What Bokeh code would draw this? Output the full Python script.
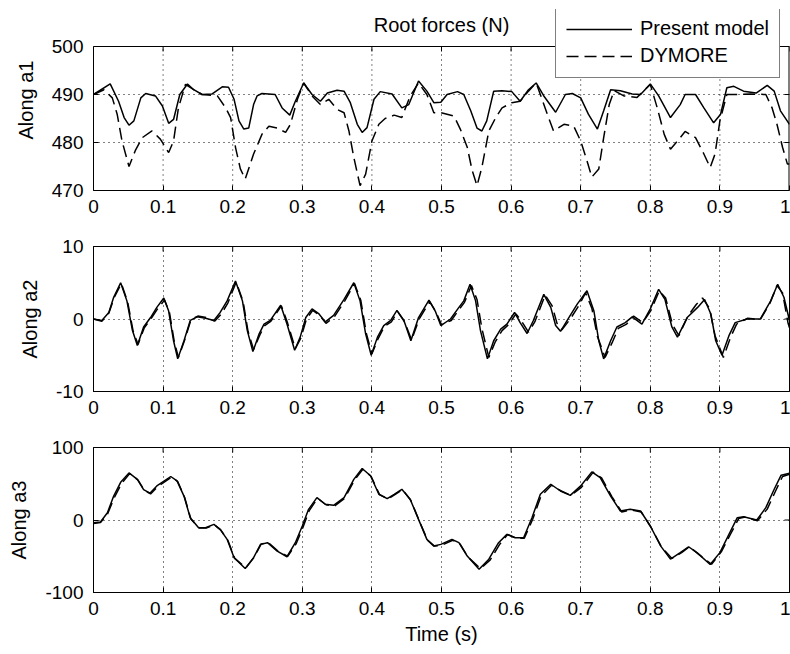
import math
from bokeh.plotting import figure
from bokeh.models import FixedTicker, Range1d, Legend, LegendItem, Label, Span
from bokeh.layouts import column
from bokeh.embed import file_html
from bokeh.resources import INLINE

# ---------------- data ----------------
x_ticks = [0, 0.1, 0.2, 0.3, 0.4, 0.5, 0.6, 0.7, 0.8, 0.9, 1]
x_tick_labels = ["0", "0.1", "0.2", "0.3", "0.4", "0.5", "0.6", "0.7", "0.8", "0.9", "1"]

a1_ticks = [470, 480, 490, 500]
a1_tick_labels = ["470", "480", "490", "500"]
a2_ticks = [-10, 0, 10]
a2_tick_labels = ["-10", "0", "10"]
a3_ticks = [-100, 0, 100]
a3_tick_labels = ["-100", "0", "100"]

title_text = "Root forces (N)"
series_names = ["Present model", "DYMORE"]
y_names = ["Along a1", "Along a2", "Along a3"]
x_name = "Time (s)"

# Along a1 - present model
a1_pm_t = [0, .024, .036, .044, .051, .058, .068, .075, .089, .099, .108, .115, .124, .135, .144, .156,
           .170, .185, .194, .202, .209, .216, .223, .230, .235, .242, .261, .271, .282, .290, .302, .314,
           .326, .336, .350, .360, .369, .379, .386, .393, .403, .412, .429, .443, .453, .467, .479, .489,
           .499, .508, .523, .532, .542, .551, .558, .565, .575, .587, .601, .613, .625, .636, .647, .664,
           .678, .688, .700, .711, .724, .733, .743, .757, .774, .786, .800, .812, .829, .843, .850, .865,
           .877, .891, .901, .910, .920, .934, .952, .968, .978, .987, 1.0]
a1_pm_v = [490, 492.2, 488.6, 485.2, 483.6, 484.5, 489.3, 490.2, 489.7, 487.6, 484.0, 484.8, 490, 492.2, 491, 490,
           490.1, 491.6, 491.5, 489, 484.5, 482.8, 483, 487.9, 489.7, 490.2, 490, 487.2, 485.7, 488.6, 492.4, 490,
           488.6, 490.3, 490.9, 490.7, 488.3, 483.8, 482.1, 483.1, 489, 490.6, 490.1, 487.2, 487.9, 492.8, 490.7, 488.3,
           488.4, 490, 490.6, 490, 486.6, 483, 482.4, 484.5, 490.7, 490.8, 490.6, 488.6, 491, 492.4, 489.7, 486.3,
           490, 490.2, 489.3, 485.9, 482.8, 486.6, 491, 490.8, 490.1, 490, 492.2, 489.7, 485.2, 487.9, 490, 490,
           487.2, 484.1, 485.9, 491.4, 491.7, 490.7, 490.3, 491.9, 490.7, 486.6, 483.8]

# Along a1 - DYMORE
a1_dy_t = [0, .015, .027, .034, .041, .051, .060, .070, .084, .096, .108, .115, .122, .132, .144, .156,
           .178, .190, .197, .204, .211, .218, .230, .242, .252, .264, .276, .283, .293, .302, .314, .326,
           .338, .350, .360, .367, .374, .383, .391, .400, .410, .419, .432, .443, .455, .467, .479, .489,
           .499, .518, .527, .537, .544, .551, .558, .568, .578, .587, .601, .613, .625, .636, .642, .652,
           .661, .676, .690, .700, .709, .716, .726, .733, .741, .748, .762, .781, .800, .810, .820, .829,
           .839, .850, .865, .877, .886, .893, .900, .910, .925, .944, .966, .975, .982, .990, .997, 1.0]
a1_dy_v = [490, 491, 489.3, 485.9, 480.3, 475, 478.3, 481, 482.4, 480.7, 477.9, 480.3, 487.2, 492.1, 491, 490,
           489.7, 487.2, 485.2, 479, 474.5, 472.4, 477.6, 481.7, 483.4, 483, 482.1, 483.8, 489, 492.4, 489.7, 487.9,
           489, 486.9, 486.2, 482.4, 476.9, 471, 473.4, 480.3, 483.8, 485, 485.7, 485.2, 489.7, 492.4, 490, 486.2,
           486.2, 485.5, 482.8, 479, 474.2, 471, 474.8, 482.4, 485.2, 487.2, 488.3, 488.6, 490.7, 492.4, 490, 485.9,
           482.4, 483.8, 483.4, 480.3, 476.2, 472.8, 474.5, 481, 487.9, 490.8, 489.7, 489.4, 492.1, 487.2, 481.7, 478.6,
           480.3, 482.3, 481, 477.6, 474.8, 477.6, 484.5, 490, 490, 490.1, 490, 487.2, 483.8, 479, 475.5, 475.5]

# Along a2 - present model
a2_pm_t = [0, .012, .022, .029, .039, .048, .056, .063, .072, .082, .091, .101, .108, .115, .121, .130,
           .139, .149, .161, .173, .182, .192, .204, .214, .221, .229, .238, .245, .254, .269, .278, .289,
           .297, .305, .314, .324, .333, .345, .360, .374, .383, .391, .399, .408, .417, .427, .436, .446,
           .456, .467, .482, .491, .499, .513, .525, .532, .541, .549, .556, .566, .575, .585, .594, .605,
           .613, .623, .632, .647, .657, .664, .671, .683, .695, .709, .719, .726, .733, .743, .752, .764,
           .774, .788, .800, .812, .821, .831, .839, .853, .868, .878, .887, .894, .903, .913, .922, .939,
           .958, .973, .983, .992, 1.0]
a2_pm_v = [0, -0.2, 0.9, 3.0, 5.0, 2.5, -1.6, -3.65, -1.1, 0.2, 1.6, 2.9, 1.1, -3.0, -5.5, -3.0,
           -0.2, 0.3, 0.1, -0.2, 0.9, 2.5, 5.25, 2.5, -1.6, -4.5, -2.05, -0.7, -0.2, 1.9, -0.7, -4.3,
           -2.5, 0.2, 1.4, 0.7, -0.4, 0.5, 2.7, 5.0, 2.5, -2.05, -5.0, -2.5, -0.9, -0.2, 1.2, -0.2,
           -3.0, 0.2, 2.6, 1.1, -0.9, 0, 1.6, 2.5, 4.8, 2.5, -1.6, -5.5, -3.0, -1.4, -0.7, 0.9,
           -0.5, -2.0, -0.2, 3.4, 1.6, -0.9, -1.7, 0.2, 2.05, 3.9, 1.1, -3.0, -5.5, -3.0, -1.1, -0.5,
           0.3, -0.7, 1.4, 4.1, 2.7, -1.1, -2.5, 0.2, 1.6, 2.7, 0.7, -3.0, -5.0, -2.3, -0.5, 0,
           0, 2.5, 4.8, 3.0, -0.2]

# Along a2 - DYMORE
a2_dy_t = [0, .012, .022, .030, .040, .049, .057, .064, .073, .083, .092, .102, .109, .116, .122, .131,
           .140, .150, .162, .174, .183, .193, .205, .215, .222, .230, .239, .246, .255, .270, .279, .290,
           .298, .306, .315, .325, .334, .346, .361, .375, .384, .392, .400, .409, .418, .428, .437, .447,
           .457, .468, .483, .492, .500, .514, .526, .533, .543, .551, .558, .568, .577, .587, .596, .607,
           .615, .625, .634, .649, .659, .666, .673, .685, .697, .707, .716, .724, .735, .745, .754, .766,
           .776, .789, .801, .813, .822, .832, .841, .854, .866, .875, .885, .893, .905, .915, .924, .940,
           .958, .972, .982, .990, .998, 1.0]
a2_dy_v = [0, -0.3, 0.8, 3.0, 4.9, 2.4, -1.7, -3.5, -1.2, 0.1, 1.4, 2.6, 1.0, -3.1, -5.3, -2.9,
           -0.1, 0.4, 0.2, -0.3, 0.6, 2.2, 5.1, 2.4, -1.7, -4.2, -2.2, -0.9, -0.3, 1.8, -0.6, -4.1,
           -2.6, 0.0, 1.2, 0.5, -0.6, 0.3, 2.5, 4.9, 2.6, -2.0, -4.8, -2.7, -1.0, -0.4, 1.0, -0.4,
           -2.9, 0.0, 2.4, 1.0, -0.8, -0.2, 1.4, 2.3, 4.6, 2.7, -1.3, -5.3, -3.2, -1.6, -0.8, 0.7,
           -0.3, -1.8, -0.4, 3.3, 1.8, -0.6, -1.5, 0.0, 1.8, 3.6, 1.5, -2.4, -5.3, -3.3, -1.3, -0.7,
           0.4, -0.5, 1.2, 3.9, 2.9, -0.8, -2.3, 0.4, 2.0, 2.9, 1.5, -2.3, -5.3, -2.6, -0.7, 0.1,
           -0.1, 2.2, 4.6, 3.6, -0.6, -1.2]

# Along a3 - present model
a3_pm_t = [0, .010, .020, .029, .039, .051, .063, .072, .081, .091, .111, .120, .130, .139, .151, .161,
           .173, .182, .192, .202, .218, .230, .240, .250, .264, .278, .290, .300, .309, .321, .333, .345,
           .360, .374, .386, .398, .410, .422, .432, .443, .455, .467, .479, .489, .499, .515, .525, .537,
           .554, .568, .582, .594, .606, .618, .630, .642, .657, .671, .685, .700, .716, .728, .743, .757,
           .771, .786, .800, .815, .829, .843, .855, .867, .886, .900, .913, .925, .934, .953, .966, .978,
           .988, 1.0]
a3_pm_v = [-3.7, -2.8, 10, 33, 52, 65, 56, 42, 37, 47, 60, 54, 33, 3.2, -10.6, -10.6,
           -6, -13, -26.7, -52, -67, -52, -33.6, -31.3, -42.9, -50.7, -31.3, -8.3, 14.7, 30.9, 21.7, 20.3,
           30.9, 56, 71, 61, 35.5, 29.5, 35.5, 42.4, 28.6, 0.9, -26.7, -36, -33.6, -26.7, -31.3, -49.8,
           -68, -54, -31.3, -19.8, -24.4, -24.4, 3.2, 35.5, 49.3, 40, 34, 47, 66.4, 58.5, 33, 12.4,
           14.7, 12.4, -8.3, -36, -54, -45, -36.9, -45, -61.3, -45, -19.8, 3.2, 4.6, 0, 17, 42.4,
           61.8, 64.5]

# Along a3 - DYMORE
a3_dy_t = [0, .010, .020, .030, .040, .052, .064, .073, .082, .092, .112, .121, .131, .140, .152, .162,
           .174, .183, .193, .203, .219, .231, .241, .251, .265, .279, .291, .301, .310, .322, .334, .346,
           .361, .375, .387, .399, .411, .423, .433, .444, .456, .468, .480, .490, .500, .516, .526, .538,
           .556, .570, .584, .595, .607, .619, .631, .643, .658, .672, .686, .701, .718, .730, .745, .759,
           .772, .787, .801, .816, .831, .845, .856, .868, .888, .902, .915, .927, .936, .954, .968, .980,
           .990, 1.0]
a3_dy_v = [-5, -3.5, 8, 31, 50, 64, 55, 41, 36, 46, 59, 53, 31, 1, -11, -11,
           -7, -14, -28, -53, -66, -51, -33, -31, -43, -50, -33, -10, 13, 30, 21, 19,
           30, 55, 70, 60, 35, 29, 35, 42, 27, -1, -28, -36, -35, -28, -32, -51,
           -67, -55, -33, -20, -25, -25, 1, 33, 48, 40, 34, 45, 66, 58, 32, 11,
           14, 11, -10, -37, -53, -45, -37, -46, -61, -44, -20, 2, 4, -1, 15, 40,
           60, 63]

# ---------------- style / layout ----------------
FONT = "Liberation Sans"
LINE_W = 1.5
DASH = "12 6"
GRID_DASH = "1 4"
TICK_LEN = 5
FIG_W = 790
LEFT_B = 93
RIGHT_B = 1


def style_axes(p, yt, ytl, ylabel, xlabel=None, y_bounds=None):
    p.xaxis.ticker = FixedTicker(ticks=x_ticks)
    p.xaxis.major_label_overrides = {k: s for k, s in zip(x_ticks, x_tick_labels)}
    p.yaxis.ticker = FixedTicker(ticks=yt)
    p.yaxis.major_label_overrides = {k: s for k, s in zip(yt, ytl)}
    for ax in (p.xaxis[0], p.yaxis[0]):
        ax.major_tick_in = TICK_LEN
        ax.major_tick_out = 0
        ax.minor_tick_line_color = None
        ax.axis_line_color = "black"
        ax.major_tick_line_color = "black"
        ax.major_label_text_font = FONT
        ax.major_label_text_font_size = "19px"
        ax.major_label_text_color = "black"
        ax.axis_label_text_font = FONT
        ax.axis_label_text_font_size = "20px"
        ax.axis_label_text_font_style = "normal"
        ax.axis_label_text_color = "black"
    p.xaxis.major_label_standoff = 9
    p.yaxis.major_label_standoff = 10
    p.yaxis.axis_label = ylabel
    p.yaxis.axis_label_standoff = 12
    if y_bounds is not None:
        p.yaxis.bounds = y_bounds
    if xlabel:
        p.xaxis.axis_label = xlabel
        p.xaxis.axis_label_standoff = 5


def box_ticks(p, yt, y_top):
    # inward ticks on the top and right edges of the axes box
    p.ray(x=x_ticks, y=[y_top] * len(x_ticks), length=TICK_LEN, length_units="screen",
          angle=-math.pi / 2, line_color="black", line_width=1)
    p.ray(x=[x_ticks[-1]] * len(yt), y=yt, length=TICK_LEN, length_units="screen",
          angle=math.pi, line_color="black", line_width=1)


def normal_panel(yt, ytl, ylabel, height, top_b, bottom_b, xlabel=None):
    p = figure(width=FIG_W, height=height, x_range=Range1d(x_ticks[0], x_ticks[-1]),
               y_range=Range1d(yt[0], yt[-1]),
               output_backend="svg", toolbar_location=None,
               min_border_left=LEFT_B, min_border_right=RIGHT_B,
               min_border_top=top_b, min_border_bottom=bottom_b)
    p.outline_line_color = "black"
    p.outline_line_width = 1
    p.background_fill_color = "white"
    p.border_fill_color = "white"
    style_axes(p, yt, ytl, ylabel, xlabel)
    p.xgrid.ticker = FixedTicker(ticks=x_ticks)
    p.ygrid.ticker = FixedTicker(ticks=yt)
    p.grid.grid_line_color = "black"
    p.grid.grid_line_dash = GRID_DASH
    p.grid.grid_line_width = 1
    box_ticks(p, yt, yt[-1])
    return p


# ---- top panel: frame extended upward so the legend / title above the box are not clipped ----
TOP_BOX_PX = 144      # height of the axes box
EXTRA_PX = 37         # room above the box (legend top)
a1_span = a1_ticks[-1] - a1_ticks[0]
a1_ymax = a1_ticks[-1] + a1_span * EXTRA_PX / TOP_BOX_PX

p1 = figure(width=FIG_W, height=9 + TOP_BOX_PX + EXTRA_PX + 34,
            x_range=Range1d(x_ticks[0], x_ticks[-1]), y_range=Range1d(a1_ticks[0], a1_ymax),
            output_backend="svg", toolbar_location=None,
            min_border_left=LEFT_B, min_border_right=RIGHT_B, min_border_top=9, min_border_bottom=34)
p1.outline_line_color = None
p1.background_fill_color = "white"
p1.border_fill_color = "white"
style_axes(p1, a1_ticks, a1_tick_labels, y_names[0], y_bounds=(a1_ticks[0], a1_ticks[-1]))
p1.xgrid.visible = False
p1.ygrid.ticker = FixedTicker(ticks=a1_ticks[1:-1])
p1.ygrid.grid_line_color = "black"
p1.ygrid.grid_line_dash = GRID_DASH
inner_x = x_ticks[1:-1]
p1.segment(x0=inner_x, y0=[a1_ticks[0]] * len(inner_x), x1=inner_x, y1=[a1_ticks[-1]] * len(inner_x),
           line_color="black", line_width=1, line_dash=GRID_DASH)
# top and right edges of the box
p1.add_layout(Span(location=a1_ticks[-1], dimension="width", line_color="black", line_width=1))
p1.segment(x0=[x_ticks[-1]], y0=[a1_ticks[0]], x1=[x_ticks[-1]], y1=[a1_ticks[-1]],
           line_color="black", line_width=2)
box_ticks(p1, a1_ticks, a1_ticks[-1])

r_pm1 = p1.line(a1_pm_t, a1_pm_v, line_color="black", line_width=LINE_W)
r_dy1 = p1.line(a1_dy_t, a1_dy_v, line_color="black", line_width=LINE_W, line_dash=DASH)

title_y = a1_ticks[-1] + a1_span * 22 / TOP_BOX_PX
p1.add_layout(Label(x=(x_ticks[0] + x_ticks[-1]) / 2, y=title_y, text=title_text,
                    text_align="center", text_baseline="middle",
                    text_font=FONT, text_font_size="20px", text_color="black"))

legend = Legend(items=[LegendItem(label=series_names[0], renderers=[r_pm1]),
                       LegendItem(label=series_names[1], renderers=[r_dy1])],
                location=(462, 112), orientation="vertical",
                label_text_font=FONT, label_text_font_size="20px", label_text_color="black",
                glyph_width=66, glyph_height=22, label_height=22, label_standoff=8,
                spacing=4, padding=10, margin=0,
                border_line_color="black", border_line_width=1,
                background_fill_color="white", background_fill_alpha=1.0)
p1.add_layout(legend, "center")

p2 = normal_panel(a2_ticks, a2_tick_labels, y_names[1], 201, 22, 34)
p3 = normal_panel(a3_ticks, a3_tick_labels, y_names[2], 228, 22, 61, xlabel=x_name)

p2.line(a2_pm_t, a2_pm_v, line_color="black", line_width=LINE_W)
p2.line(a2_dy_t, a2_dy_v, line_color="black", line_width=LINE_W, line_dash=DASH)
p3.line(a3_pm_t, a3_pm_v, line_color="black", line_width=LINE_W)
p3.line(a3_dy_t, a3_dy_v, line_color="black", line_width=LINE_W, line_dash=DASH)

layout = column(p1, p2, p3)
open("out.html", "w").write(file_html(layout, INLINE))
